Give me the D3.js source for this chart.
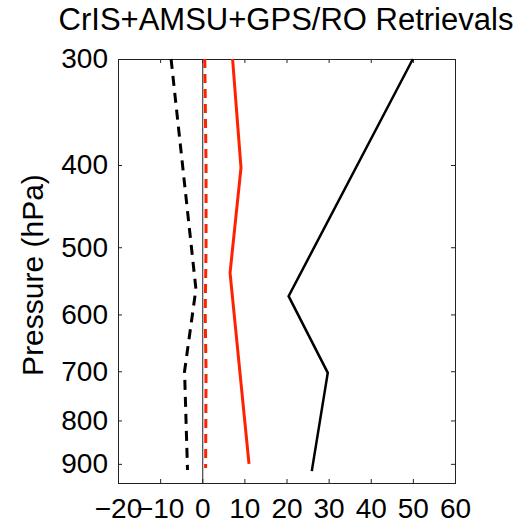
<!DOCTYPE html>
<html>
<head>
	<meta charset="utf-8">
	<style>
		html, body { margin: 0; padding: 0; background: white; }
		svg { display: block; font-family: "Liberation Sans", Arial, sans-serif; }
		.axis text { font-size: 28px; fill: black; }
		.axis line { stroke: #222; }
	</style>
</head>
<body>
<svg class="diagram" width="525" height="526"></svg>
<script src="https://d3js.org/d3.v7.min.js"></script>
<script>

// pressure ticks and x ticks
var pressureTicks = [300, 400, 500, 600, 700, 800, 900]
var xTicks = [-20, -10, 0, 10, 20, 30, 40, 50, 60]

// black solid
var blackSolidP = [300, 571, 703, 918]
var blackSolidX = [50, 20.5, 29.8, 26]

// black dashed
var blackDashP = [300, 560, 700, 915]
var blackDashX = [-7.4, -1.5, -4.2, -3.5]

// red solid
var redSolidP = [300, 403, 536, 900]
var redSolidX = [7.2, 9.2, 6.6, 11.1]

// red dashed
var redDashP = [300, 400, 500, 600, 700, 910]
var redDashX = [0.6, 0.9, 0.9, 0.7, 0.9, 0.8]

var cfg = {
	left: 118, right: 455,
	top: 59, bottom: 483,
	red: '#ff2200'
}

var svg = d3.select('.diagram')

var x = d3.scaleLinear().domain([-20, 60]).range([cfg.left, cfg.right])
var y = d3.scaleLog().domain([300, 948]).range([cfg.top, cfg.bottom])

// title
svg.append('text')
	.attr('x', 286).attr('y', 30)
	.attr('text-anchor', 'middle')
	.attr('font-size', 31)
	.text('CrIS+AMSU+GPS/RO Retrievals')

// y label
svg.append('text')
	.attr('transform', 'translate(43,275) rotate(-90)')
	.attr('text-anchor', 'middle')
	.attr('font-size', 30)
	.text('Pressure (hPa)')

// axes with inward ticks
var fmt = d3.format('d')
svg.append('g').attr('class', 'axis')
	.attr('transform', 'translate(' + cfg.left + ',0)')
	.call(d3.axisLeft(y).tickValues(pressureTicks).tickFormat(fmt)
		.tickSizeInner(-4).tickSizeOuter(0).tickPadding(10))
svg.append('g').attr('class', 'axis')
	.attr('transform', 'translate(' + cfg.right + ',0)')
	.call(d3.axisRight(y).tickValues(pressureTicks).tickFormat('')
		.tickSizeInner(-4).tickSizeOuter(0))
svg.append('g').attr('class', 'axis')
	.attr('transform', 'translate(0,' + cfg.bottom + ')')
	.call(d3.axisBottom(x).tickValues(xTicks)
		.tickSizeInner(-4).tickSizeOuter(0).tickPadding(15))
svg.append('g').attr('class', 'axis')
	.attr('transform', 'translate(0,' + cfg.top + ')')
	.call(d3.axisTop(x).tickValues(xTicks).tickFormat('')
		.tickSizeInner(-4).tickSizeOuter(0))
svg.selectAll('.axis .domain').remove()

// frame
svg.append('rect')
	.attr('x', cfg.left + 0.5).attr('y', cfg.top + 0.5)
	.attr('width', cfg.right - cfg.left).attr('height', cfg.bottom - cfg.top)
	.attr('fill', 'none').attr('stroke', '#222')

// zero line
svg.append('line')
	.attr('x1', x(0) + 0.5).attr('x2', x(0) + 0.5)
	.attr('y1', cfg.top).attr('y2', cfg.bottom)
	.attr('stroke', '#222')

var line = d3.line()
	.x(function(d) { return x(d[1]) })
	.y(function(d) { return y(d[0]) })

function series(ps, xs, color, width, dash) {
	svg.append('path')
		.datum(d3.zip(ps, xs))
		.attr('d', line)
		.attr('fill', 'none')
		.attr('stroke', color)
		.attr('stroke-width', width)
		.attr('stroke-dasharray', dash)
}

series(redDashP, redDashX, cfg.red, 3, '9,6')
series(redSolidP, redSolidX, cfg.red, 3, null)
series(blackDashP, blackDashX, 'black', 3, '10,7')
series(blackSolidP, blackSolidX, 'black', 2.5, null)

</script>
</body>
</html>
